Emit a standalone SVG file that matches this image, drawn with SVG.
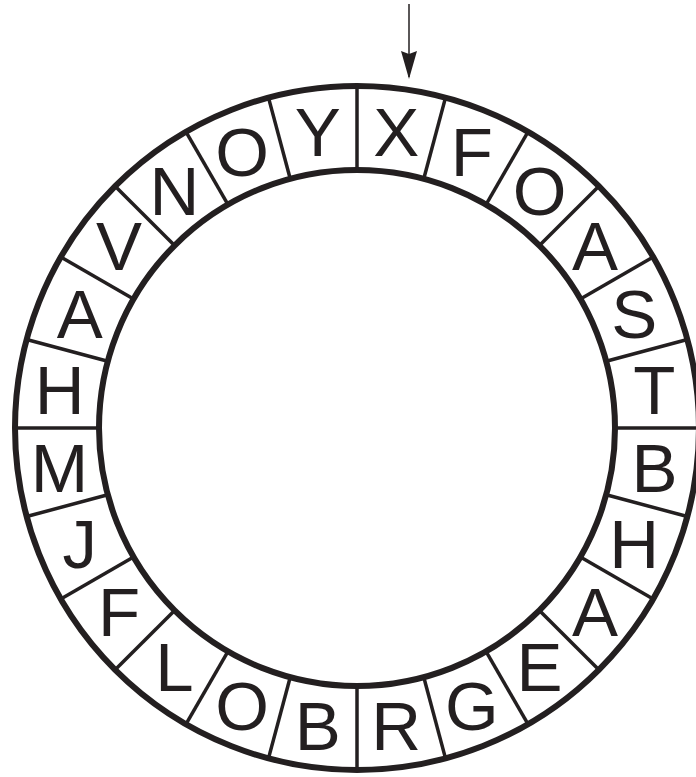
<svg xmlns="http://www.w3.org/2000/svg" width="696" height="777" viewBox="0 0 696 777">
<style>
.ring{fill:none;stroke:#231f20;stroke-width:6}
.div{stroke:#231f20;stroke-width:3.5}
.lt{font-family:"Liberation Sans",Arial,Helvetica,sans-serif;font-size:69px;fill:#231f20;text-anchor:middle}
</style>
<defs>
<marker id="ah" viewBox="0 0 28 16" refX="26" refY="8" markerWidth="28" markerHeight="16" markerUnits="userSpaceOnUse" orient="auto">
<path d="M0,0 L3,8 L0,16 L28,8 Z" fill="#231f20"/>
</marker>
<line id="d" class="div" x1="357" y1="170" x2="357" y2="86"/>
</defs>
<rect width="696" height="777" fill="#fff"/>
<g id="ring">
<circle class="ring" cx="357" cy="428" r="342"/>
<circle class="ring" cx="357" cy="428" r="258"/>
<use href="#d"/>
<use href="#d" transform="rotate(15 357 428)"/>
<use href="#d" transform="rotate(30 357 428)"/>
<use href="#d" transform="rotate(45 357 428)"/>
<use href="#d" transform="rotate(60 357 428)"/>
<use href="#d" transform="rotate(75 357 428)"/>
<use href="#d" transform="rotate(90 357 428)"/>
<use href="#d" transform="rotate(105 357 428)"/>
<use href="#d" transform="rotate(120 357 428)"/>
<use href="#d" transform="rotate(135 357 428)"/>
<use href="#d" transform="rotate(150 357 428)"/>
<use href="#d" transform="rotate(165 357 428)"/>
<use href="#d" transform="rotate(180 357 428)"/>
<use href="#d" transform="rotate(195 357 428)"/>
<use href="#d" transform="rotate(210 357 428)"/>
<use href="#d" transform="rotate(225 357 428)"/>
<use href="#d" transform="rotate(240 357 428)"/>
<use href="#d" transform="rotate(255 357 428)"/>
<use href="#d" transform="rotate(270 357 428)"/>
<use href="#d" transform="rotate(285 357 428)"/>
<use href="#d" transform="rotate(300 357 428)"/>
<use href="#d" transform="rotate(315 357 428)"/>
<use href="#d" transform="rotate(330 357 428)"/>
<use href="#d" transform="rotate(345 357 428)"/>
</g>
<g id="seg01"><text class="lt" x="396.2" y="155.6">X</text></g>
<g id="seg02"><text class="lt" x="471.8" y="175.8">F</text></g>
<g id="seg03"><text class="lt" x="539.6" y="215.0">O</text></g>
<g id="seg04"><text class="lt" x="595.0" y="270.4">A</text></g>
<g id="seg05"><text class="lt" x="634.2" y="338.2">S</text></g>
<g id="seg06"><text class="lt" x="654.4" y="413.8">T</text></g>
<g id="seg07"><text class="lt" x="654.4" y="492.2">B</text></g>
<g id="seg08"><text class="lt" x="634.2" y="567.8">H</text></g>
<g id="seg09"><text class="lt" x="595.0" y="635.6">A</text></g>
<g id="seg10"><text class="lt" x="539.6" y="691.0">E</text></g>
<g id="seg11"><text class="lt" x="471.8" y="730.2">G</text></g>
<g id="seg12"><text class="lt" x="396.2" y="750.4">R</text></g>
<g id="seg13"><text class="lt" x="317.8" y="750.4">B</text></g>
<g id="seg14"><text class="lt" x="242.2" y="730.2">O</text></g>
<g id="seg15"><text class="lt" x="174.4" y="691.0">L</text></g>
<g id="seg16"><text class="lt" x="119.0" y="635.6">F</text></g>
<g id="seg17"><text class="lt" x="79.8" y="567.8">J</text></g>
<g id="seg18"><text class="lt" x="59.6" y="492.2">M</text></g>
<g id="seg19"><text class="lt" x="59.6" y="413.8">H</text></g>
<g id="seg20"><text class="lt" x="79.8" y="338.2">A</text></g>
<g id="seg21"><text class="lt" x="119.0" y="270.4">V</text></g>
<g id="seg22"><text class="lt" x="174.4" y="215.0">N</text></g>
<g id="seg23"><text class="lt" x="242.2" y="175.8">O</text></g>
<g id="seg24"><text class="lt" x="317.8" y="155.6">Y</text></g>
<g id="connectors">
<line x1="409" y1="4" x2="409" y2="77" stroke="#231f20" stroke-width="1.5" marker-end="url(#ah)"/>
</g>
</svg>
